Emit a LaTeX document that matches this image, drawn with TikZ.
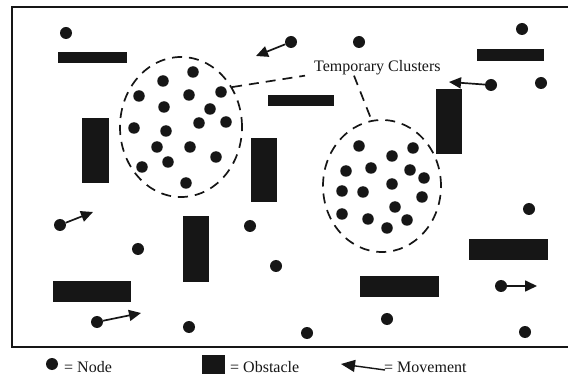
\documentclass[tikz,border=0pt]{standalone}
\usepackage{fontspec}
\setmainfont{Liberation Serif}
\usetikzlibrary{arrows.meta,shapes.geometric}

\definecolor{ink}{RGB}{22,22,22}

\tikzset{
  dot/.style={circle, fill=ink, inner sep=0pt, minimum size=12pt},
  cdot/.style={circle, fill=ink, inner sep=0pt, minimum size=11.5pt},
  bar/.style={fill=ink},
  cluster/.style={ellipse, draw=ink, line width=1.7pt, dash pattern=on 10pt off 7pt, inner sep=0pt},
  link/.style={draw=ink, line width=1.7pt, dash pattern=on 10pt off 7pt},
  move/.style={draw=ink, line width=1.7pt, -{Triangle[length=12pt,width=11pt]}},
  lbl/.style={font=\fontsize{16}{18}\selectfont, inner sep=0pt, text=ink},
}

\begin{document}
\begin{tikzpicture}[x=1pt,y=-1pt]
\useasboundingbox (0,0) rectangle (568,374);
\fill[white] (0,0) rectangle (568,374);

% field border (open on the right)
\draw[ink, line width=2pt] (580,7) -- (12,7) -- (12,347) -- (580,347);

% obstacles
\fill[bar] (58,52) rectangle (127,63);
\fill[bar] (82,118) rectangle (109,183);
\fill[bar] (268,95) rectangle (334,106);
\fill[bar] (251,138) rectangle (277,202);
\fill[bar] (477,49) rectangle (544,61);
\fill[bar] (436,89) rectangle (462,154);
\fill[bar] (183,216) rectangle (209,282);
\fill[bar] (53,281) rectangle (131,302);
\fill[bar] (469,239) rectangle (548,260);
\fill[bar] (360,276) rectangle (439,297);

% cluster outlines
\node[cluster, minimum width=122pt, minimum height=140pt] (c1) at (181,127) {};
\node[cluster, minimum width=118pt, minimum height=132pt] (c2) at (382,186) {};

% cluster label and its pointers
\node[lbl, anchor=base west] (tc) at (314,72) {Temporary Clusters};
\draw[link] (c1.38) -- ([xshift=-9pt]tc.south west);
\draw[link] ([xshift=40pt]tc.south west) -- (c2.99);

% first cluster
\foreach \x/\y [count=\i] in {193/72, 163/81, 139/96, 189/95, 221/92, 164/107,
  210/109, 199/123, 226/122, 134/128, 166/131, 157/147, 190/147, 216/157,
  168/162, 142/167, 186/183}
  \node[cdot] (a\i) at (\x,\y) {};

% second cluster
\foreach \x/\y [count=\i] in {359/146, 392/156, 413/148, 346/171, 371/168,
  410/170, 424/178, 392/184, 342/191, 363/192, 422/197, 395/207, 342/214,
  368/219, 407/220, 387/228}
  \node[cdot] (b\i) at (\x,\y) {};

% free nodes
\node[dot] (n1) at (66,33) {};
\node[dot] (n2) at (291,42) {};
\node[dot] (n3) at (359,42) {};
\node[dot] (n4) at (522,29) {};
\node[dot] (n5) at (491,85) {};
\node[dot] (n6) at (541,83) {};
\node[dot] (n7) at (60,225) {};
\node[dot] (n8) at (138,249) {};
\node[dot] (n9) at (250,226) {};
\node[dot] (n10) at (276,266) {};
\node[dot] (n11) at (97,322) {};
\node[dot] (n12) at (189,327) {};
\node[dot] (n13) at (529,209) {};
\node[dot] (n14) at (501,286) {};
\node[dot] (n15) at (387,319) {};
\node[dot] (n16) at (307,333) {};
\node[dot] (n17) at (525,332) {};

% movement targets
\coordinate (m2) at (256,56);
\coordinate (m5) at (449,82);
\coordinate (m7) at (93,212);
\coordinate (m11) at (141,313);
\coordinate (m14) at (537,286);

\draw[move] (n2) -- (m2);
\draw[move] (n5) -- (m5);
\draw[move] (n7) -- (m7);
\draw[move] (n11) -- (m11);
\draw[move] (n14) -- (m14);

% legend
\node[dot] (kdot) at (52,364) {};
\node[lbl, anchor=base west] (knode) at (64,372) {= Node};
\fill[bar] (202,355) rectangle (225,375);
\node[lbl, anchor=base west] (kobs) at (230,372) {= Obstacle};
\coordinate (ktail) at (385,370);
\coordinate (khead) at (341,364);
\draw[ink, line width=1.4pt, -{Triangle[length=14pt,width=12pt]}] (ktail) -- (khead);
\node[lbl, anchor=base west] (kmove) at (384,372) {= Movement};
\end{tikzpicture}
\end{document}
